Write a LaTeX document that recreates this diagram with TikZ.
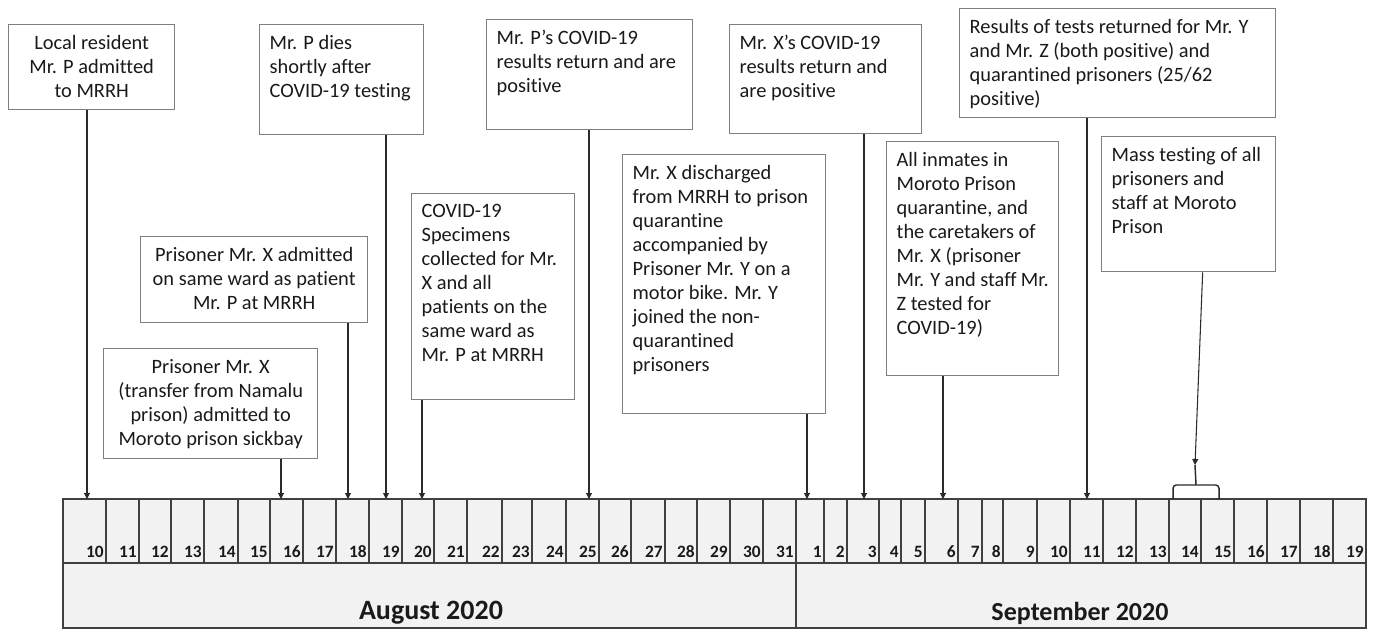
\documentclass[tikz,border=0pt]{standalone}
\usepackage{fontspec}
\setmainfont{Carlito}[Ligatures={NoCommon,NoContextual,NoRare},Contextuals=NoAlternate]
\usetikzlibrary{arrows.meta}
\definecolor{boxline}{HTML}{7F7F7F}
\definecolor{tlline}{HTML}{404040}
\definecolor{tlfill}{HTML}{F2F2F2}
\definecolor{txt}{HTML}{1A1A1A}
\definecolor{arrcol}{HTML}{2B2B2B}
\newcommand{\ebox}[7]{%
  \pgfmathsetmacro\bw{(#4-#2)*0.75}%
  \pgfmathsetmacro\bh{(#5-#3)*0.75}%
  \pgfmathsetmacro\iw{\bw-15}%
  \pgfmathsetmacro\ih{\bh-16}%
  \node[evbox, minimum width=\bw pt, minimum height=\bh pt, anchor=north west] (#1) at (#2,#3)
    {\parbox[c][\ih pt][t]{\iw pt}{#6 #7}};}
\begin{document}
\begin{tikzpicture}[x=0.75pt,y=-0.75pt,
  evbox/.style={draw=boxline, line width=1pt, fill=white, inner xsep=7.5pt, inner ysep=8pt,
    font=\fontsize{15.3}{18}\selectfont, text=txt},
  cell/.style={draw=tlline, line width=0.9pt, fill=tlfill},
  day/.style={font=\bfseries\fontsize{13}{14}\selectfont, text=txt, inner sep=0pt},
  month/.style={font=\bfseries, text=txt, inner sep=0pt},
  conn/.style={draw=arrcol, line width=0.8pt, -{Triangle[length=4.5pt,width=4.5pt]}},
  bracepath/.style={draw=arrcol, line width=1.1pt, rounded corners=2.5pt}]
\useasboundingbox (0,0) rectangle (1373,630);

% timeline
\foreach \d/\a/\b in {10/63/106,11/106/139,12/139/171,13/171/204,14/204/238,15/238/270,16/270/303,17/303/336,18/336/369,19/369/402,20/402/434,21/434/467,22/467/502,23/502/532,24/532/566,25/566/599,26/599/631,27/631/665,28/665/697,29/697/730,30/730/763,31/763/796}{
  \draw[cell] (\a,499) rectangle (\b,563);
  \node[day, anchor=base east] (da\d) at (\b-2,557) {\d};
}
\foreach \d/\a/\b in {1/796/824,2/824/847,3/847/879,4/879/901,5/901/925,6/925/958,7/958/982,8/982/1003,9/1003/1037,10/1037/1070,11/1070/1103,12/1103/1136,13/1136/1169,14/1169/1201,15/1201/1234,16/1234/1267,17/1267/1300,18/1300/1333,19/1333/1366}{
  \draw[cell] (\a,499) rectangle (\b,563);
  \node[day, anchor=base east] (ds\d) at (\b-2,557) {\d};
}
\draw[cell] (63,563) rectangle (796,628);
\draw[cell] (796,563) rectangle (1366,628);
\node[month, font=\bfseries\fontsize{21}{24}\selectfont, anchor=base] (aug) at (431,619) {August 2020};
\node[month, font=\bfseries\fontsize{19.5}{22}\selectfont, anchor=base] (sep) at (1080,620) {September 2020};

% event boxes
\ebox{b1}{8}{24}{174}{109}{\centering}{Local resident\\ Mr. P admitted\\ to MRRH}
\ebox{b2}{259}{24}{423}{134}{\raggedright}{Mr. P dies\\ shortly after\\ COVID-19 testing}
\ebox{b3}{486}{19}{692}{129}{\raggedright}{Mr. P’s COVID-19\\ results return and are\\ positive}
\ebox{b4}{729}{24}{921}{133}{\raggedright}{Mr. X’s COVID-19\\ results return and\\ are positive}
\ebox{b5}{959}{8}{1275}{117}{\raggedright}{Results of tests returned for Mr. Y\\ and Mr. Z (both positive) and\\ quarantined prisoners (25/62\\ positive)}
\ebox{b6}{1101}{136}{1275}{271}{\raggedright}{Mass testing of all\\ prisoners and\\ staff at Moroto\\ Prison}
\ebox{b7}{886}{141}{1058}{375}{\raggedright}{All inmates in\\ Moroto Prison\\ quarantine, and\\ the caretakers of\\ Mr. X (prisoner\\ Mr. Y and staff Mr.\\ Z tested for\\ COVID-19)}
\ebox{b8}{622}{154}{825}{413}{\raggedright}{Mr. X discharged\\ from MRRH to prison\\ quarantine\\ accompanied by\\ Prisoner Mr. Y on a\\ motor bike. Mr. Y\\ joined the non-\\ quarantined\\ prisoners}
\ebox{b9}{411}{193}{574}{399}{\raggedright}{COVID-19\\ Specimens\\ collected for Mr.\\ X and all\\ patients on the\\ same ward as\\ Mr. P at MRRH}
\ebox{b10}{140}{236}{367}{322}{\centering}{Prisoner Mr. X admitted\\ on same ward as patient\\ Mr. P at MRRH}
\ebox{b11}{103}{348}{317}{458}{\centering}{Prisoner Mr. X\\ (transfer from Namalu\\ prison) admitted to\\ Moroto prison sickbay}

% arrow targets on the timeline
\coordinate (t1) at (87,499);
\coordinate (t11) at (281,499);
\coordinate (t10) at (348,499);
\coordinate (t2) at (386,499);
\coordinate (t9) at (422,499);
\coordinate (t3) at (589,499);
\coordinate (t8) at (807,499);
\coordinate (t4) at (864,499);
\coordinate (t7) at (943,499);
\coordinate (t5) at (1087,499);
\coordinate (mtop) at (1195,465);
\coordinate (brl) at (1173,499);
\coordinate (brm) at (1196,485);
\coordinate (brr) at (1219,499);

\foreach \i in {1,2,3,4,5,7,8,9,10,11}{
  \draw[conn] (b\i.south -| t\i) -- (t\i);
}
\draw[conn] ([xshift=10.5pt]b6.south) -- (mtop);
\draw[bracepath] (brl) -- (brl |- brm) -- (brr |- brm) -- (brr);
\draw[draw=arrcol, line width=1.1pt] (brm) -- (mtop);
\end{tikzpicture}
\end{document}
